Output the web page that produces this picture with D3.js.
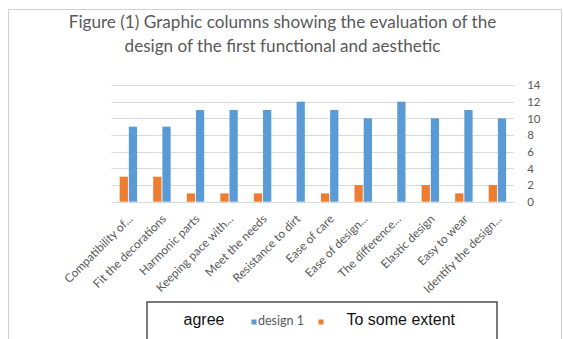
<!DOCTYPE html>
<html>
<head>
<meta charset="utf-8">
<script src="https://cdn.jsdelivr.net/npm/d3@7"></script>
<style>
  html, body { margin: 0; padding: 0; background: #fff; }
  svg { display: block; }
</style>
</head>
<body>
<svg id="chart" width="563" height="339"></svg>
<script>
// Chart data
const categories = [
  "Compatibility of...", "Fit the decorations", "Harmonic parts",
  "Keeping pace with...", "Meet the needs", "Resistance to dirt",
  "Ease of care", "Ease of design...", "The difference...",
  "Elastic design", "Easy to wear", "Identify the design..."
];
const agreeValues  = [9, 9, 11, 11, 11, 12, 11, 10, 12, 10, 11, 10];
const someValues   = [3, 3, 1, 1, 1, 0, 1, 2, 0, 2, 1, 2];
const yTicks = [0, 2, 4, 6, 8, 10, 12, 14];
const titleLines = [
  "Figure (1) Graphic columns showing the evaluation of the",
  "design of the first functional and aesthetic"
];

const BLUE = "#5B9BD5", ORANGE = "#ED7D31", GRID = "#d9d9d9", TEXT = "#595959";
const svg = d3.select("#chart");

// Outer chart frame
svg.append("rect")
  .attr("x", 8.5).attr("y", 9.5).attr("width", 553).attr("height", 340)
  .attr("fill", "#fff").attr("stroke", "#d0d0d0").attr("stroke-width", 1);

// Title, each line fitted to its width
const titleWidths = [428, 316];
titleLines.forEach((t, i) => {
  const txt = svg.append("text")
    .attr("x", 282.5).attr("y", 28 + i * 23.5)
    .attr("text-anchor", "middle")
    .attr("font-family", "Lato, 'Open Sans', sans-serif")
    .attr("font-size", 16)
    .attr("fill", TEXT)
    .text(t);
  const w = txt.node().getComputedTextLength();
  txt.attr("font-size", 16 * titleWidths[i] / w);
});

// Scales
const x0 = d3.scaleBand().domain(categories).range([111.6, 514.2]).paddingInner(0.48).paddingOuter(0.24);
const series = ["some", "agree"];
const x1 = d3.scaleBand().domain(series).range([0, x0.bandwidth()]).paddingInner(0.1);
const y = d3.scaleLinear().domain([0, 14]).range([201.7, 85]);

// Gridlines
svg.append("g").selectAll("line").data(yTicks).join("line")
  .attr("x1", 111.6).attr("x2", 514.2)
  .attr("y1", d => Math.round(y(d)) + 0.5).attr("y2", d => Math.round(y(d)) + 0.5)
  .attr("stroke", GRID).attr("stroke-width", 1);

// Right-side value axis
const yAxis = svg.append("g")
  .attr("transform", "translate(514.2,0)")
  .call(d3.axisRight(y).tickValues(yTicks).tickSize(0).tickPadding(13));
yAxis.select(".domain").remove();
yAxis.selectAll("text")
  .attr("font-family", "Lato, 'Open Sans', sans-serif")
  .attr("font-size", 11.5)
  .attr("fill", TEXT);

// Bars
const rows = categories.map((c, i) => ({ c, some: someValues[i], agree: agreeValues[i] }));
const colors = { some: ORANGE, agree: BLUE };
const groups = svg.append("g").selectAll("g").data(rows).join("g")
  .attr("transform", d => `translate(${x0(d.c)},0)`);
groups.selectAll("rect")
  .data(d => series.map(k => ({ k, v: d[k] })))
  .join("rect")
  .attr("x", d => x1(d.k))
  .attr("width", x1.bandwidth())
  .attr("y", d => y(d.v))
  .attr("height", d => y(0) - y(d.v))
  .attr("fill", d => colors[d.k]);

// Category labels, rotated
const xAxis = svg.append("g")
  .attr("transform", `translate(0,${y(0)})`)
  .call(d3.axisBottom(x0).tickSize(0).tickPadding(0));
xAxis.select(".domain").remove();
xAxis.selectAll("text")
  .attr("font-family", "Lato, 'Open Sans', sans-serif")
  .attr("font-size", 11.8)
  .attr("fill", TEXT)
  .attr("text-anchor", "end")
  .attr("dy", null)
  .attr("y", 0)
  .attr("transform", "translate(5,18) rotate(-45)");

// Legend
const lg = svg.append("g");
lg.append("rect")
  .attr("x", 147).attr("y", 302).attr("width", 350).attr("height", 50)
  .attr("fill", "#fff").attr("stroke", "#333").attr("stroke-width", 1.3);
lg.append("text").attr("x", 183.5).attr("y", 325)
  .attr("font-family", "'Liberation Sans', Arial, sans-serif")
  .attr("font-size", 16).attr("fill", "#111").text("agree");
lg.append("rect").attr("x", 251.5).attr("y", 319.5).attr("width", 5).attr("height", 5).attr("fill", BLUE);
lg.append("text").attr("x", 258).attr("y", 325)
  .attr("font-family", "Lato, 'Open Sans', sans-serif")
  .attr("font-size", 12.5).attr("fill", TEXT).text("design 1");
lg.append("rect").attr("x", 318.5).attr("y", 319.5).attr("width", 5).attr("height", 5).attr("fill", ORANGE);
lg.append("text").attr("x", 346.5).attr("y", 325)
  .attr("font-family", "'Liberation Sans', Arial, sans-serif")
  .attr("font-size", 16).attr("fill", "#111").text("To some extent");
</script>
</body>
</html>
